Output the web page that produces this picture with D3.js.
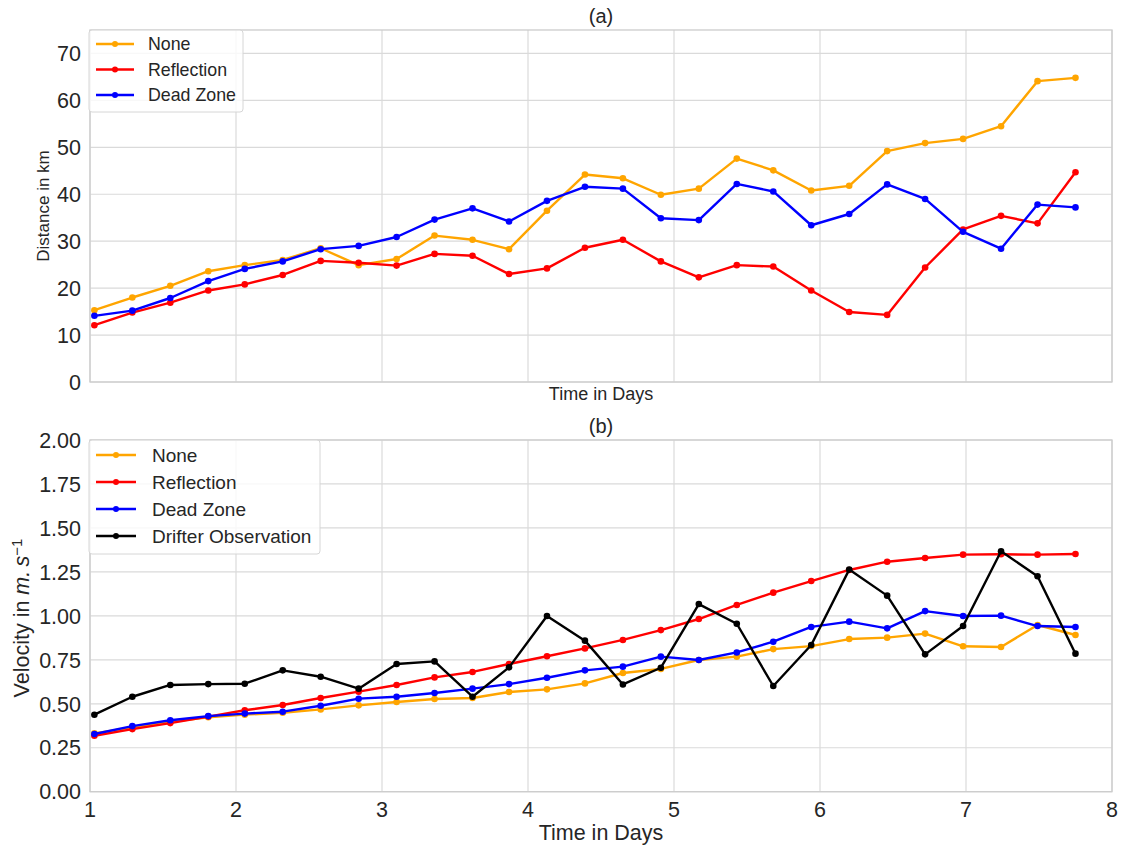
<!DOCTYPE html>
<html>
<head>
<meta charset="utf-8">
<script src="https://cdn.jsdelivr.net/npm/d3@7"></script>
<style>
  body { margin: 0; background: #fff; }
  text { font-family: "Liberation Sans", Arial, sans-serif; fill: #262626; }
</style>
</head>
<body>
<div id="chart"></div>
<script>
// time axis (days)
const days = [1.03, 1.29, 1.55, 1.81, 2.06, 2.32, 2.58, 2.84, 3.10, 3.36, 3.62, 3.87, 4.13, 4.39,
    4.65, 4.91, 5.17, 5.43, 5.68, 5.94, 6.20, 6.46, 6.72, 6.98, 7.24, 7.49, 7.75];

// (a) distance in km
const distNone = [15.3, 18.0, 20.5, 23.6, 24.9, 26.0, 28.5, 24.9, 26.2, 31.2, 30.3, 28.3, 36.5, 44.2,
    43.4, 39.9, 41.2, 47.6, 45.1, 40.8, 41.8, 49.2, 50.9, 51.8, 54.5, 64.1, 64.8];
const distReflection = [12.1, 14.8, 16.9, 19.5, 20.8, 22.8, 25.8, 25.4, 24.8, 27.3, 26.9, 23.0, 24.2, 28.6,
    30.3, 25.7, 22.3, 24.9, 24.6, 19.5, 14.9, 14.3, 24.4, 32.5, 35.4, 33.8, 44.7];
const distDeadZone = [14.1, 15.2, 17.9, 21.5, 24.1, 25.7, 28.3, 29.0, 30.9, 34.6, 37.0, 34.2, 38.6, 41.6,
    41.2, 34.9, 34.5, 42.2, 40.6, 33.4, 35.8, 42.1, 39.0, 32.0, 28.4, 37.8, 37.2];

// (b) velocity in m/s
const velNone = [0.332, 0.366, 0.398, 0.423, 0.438, 0.449, 0.468, 0.491, 0.510, 0.527, 0.533, 0.567, 0.582, 0.616,
    0.675, 0.698, 0.749, 0.768, 0.811, 0.828, 0.868, 0.876, 0.899, 0.827, 0.823, 0.948, 0.891];
const velReflection = [0.318, 0.356, 0.390, 0.427, 0.463, 0.493, 0.533, 0.569, 0.607, 0.650, 0.681, 0.726, 0.770, 0.815,
    0.863, 0.919, 0.982, 1.062, 1.132, 1.198, 1.261, 1.308, 1.329, 1.348, 1.350, 1.348, 1.352];
const velDeadZone = [0.328, 0.373, 0.406, 0.430, 0.444, 0.455, 0.489, 0.529, 0.540, 0.561, 0.586, 0.612, 0.648, 0.690,
    0.711, 0.768, 0.749, 0.792, 0.853, 0.937, 0.967, 0.929, 1.027, 0.999, 1.001, 0.942, 0.937];
const velDrifter = [0.438, 0.540, 0.607, 0.612, 0.614, 0.690, 0.654, 0.586, 0.726, 0.741, 0.540, 0.707, 0.999, 0.859,
    0.610, 0.705, 1.067, 0.955, 0.601, 0.834, 1.263, 1.115, 0.781, 0.942, 1.367, 1.225, 0.785];

const xTicks = [1, 2, 3, 4, 5, 6, 7, 8];
const distTicks = [0, 10, 20, 30, 40, 50, 60, 70];
const velTicks = [0, 0.25, 0.5, 0.75, 1.0, 1.25, 1.5, 1.75, 2.0];

const width = 1121, height = 846;
const left = 90, right = 1112;

const svg = d3.select("#chart").append("svg")
    .attr("width", width)
    .attr("height", height);

const x = d3.scaleLinear().domain([1, 8]).range([left, right]);

function panel(opts) {
    const y = d3.scaleLinear().domain(opts.yDomain).range([opts.bottom, opts.top]);
    const g = svg.append("g");

    // grid
    g.selectAll("line.gx").data(xTicks).join("line")
        .attr("x1", d => x(d)).attr("x2", d => x(d))
        .attr("y1", opts.top).attr("y2", opts.bottom)
        .attr("stroke", "#dadada").attr("stroke-width", 1.2);
    g.selectAll("line.gy").data(opts.yTicks).join("line")
        .attr("x1", left).attr("x2", right)
        .attr("y1", d => y(d)).attr("y2", d => y(d))
        .attr("stroke", "#dadada").attr("stroke-width", 1.2);

    // frame
    g.append("rect")
        .attr("x", left).attr("y", opts.top)
        .attr("width", right - left).attr("height", opts.bottom - opts.top)
        .attr("fill", "none").attr("stroke", "#cccccc").attr("stroke-width", 1.3);

    // y tick labels
    g.selectAll("text.yt").data(opts.yTicks).join("text")
        .attr("x", left - 9).attr("y", d => y(d))
        .attr("dy", "0.36em")
        .attr("text-anchor", "end")
        .style("font-size", "21.5px")
        .text(opts.yFormat);

    // x tick labels
    if (opts.xLabels) {
        g.selectAll("text.xt").data(xTicks).join("text")
            .attr("x", d => x(d)).attr("y", opts.bottom + 25)
            .attr("text-anchor", "middle")
            .style("font-size", "21.5px")
            .text(d => d);
    }

    // lines and markers
    const line = d3.line().x((d, i) => x(days[i])).y(d => y(d));
    opts.series.forEach(s => {
        g.append("path").datum(s.values)
            .attr("d", line)
            .attr("fill", "none")
            .attr("stroke", s.color)
            .attr("stroke-width", 2.4)
            .attr("stroke-linejoin", "round");
        g.selectAll(null).data(s.values).join("circle")
            .attr("cx", (d, i) => x(days[i]))
            .attr("cy", d => y(d))
            .attr("r", 3.3)
            .attr("fill", s.color);
    });

    // title
    g.append("text")
        .attr("x", (left + right) / 2).attr("y", opts.top - 7)
        .attr("text-anchor", "middle")
        .style("font-size", "20px")
        .text(opts.title);

    // legend
    const lg = opts.legend;
    g.append("rect")
        .attr("x", left - 1).attr("y", opts.top)
        .attr("width", lg.w).attr("height", lg.h)
        .attr("rx", 3)
        .attr("fill", "rgba(255,255,255,0.8)")
        .attr("stroke", "#d6d6d6");
    opts.series.forEach((s, i) => {
        const yy = opts.top + lg.first + i * lg.step;
        g.append("line")
            .attr("x1", left + 6).attr("x2", left + lg.lineW + 6)
            .attr("y1", yy).attr("y2", yy)
            .attr("stroke", s.color).attr("stroke-width", 2.4);
        g.append("circle")
            .attr("cx", left + 6 + lg.lineW / 2).attr("cy", yy).attr("r", 3)
            .attr("fill", s.color);
        g.append("text")
            .attr("x", left + lg.textX).attr("y", yy)
            .attr("dy", "0.36em")
            .style("font-size", lg.font)
            .text(s.name);
    });
    return y;
}

panel({
    top: 30, bottom: 382, yDomain: [0, 75], yTicks: distTicks, yFormat: d => d,
    xLabels: false, title: "(a)",
    legend: { w: 154, h: 82, first: 14, step: 25.5, lineW: 38, textX: 58, font: "17.8px" },
    series: [
        { name: "None", color: "orange", values: distNone },
        { name: "Reflection", color: "red", values: distReflection },
        { name: "Dead Zone", color: "blue", values: distDeadZone }
    ]
});

panel({
    top: 440, bottom: 791.7, yDomain: [0, 2], yTicks: velTicks, yFormat: d3.format(".2f"),
    xLabels: true, title: "(b)",
    legend: { w: 231, h: 114, first: 15, step: 27, lineW: 40, textX: 62, font: "19px" },
    series: [
        { name: "None", color: "orange", values: velNone },
        { name: "Reflection", color: "red", values: velReflection },
        { name: "Dead Zone", color: "blue", values: velDeadZone },
        { name: "Drifter Observation", color: "black", values: velDrifter }
    ]
});

// axis labels
svg.append("text")
    .attr("x", (left + right) / 2).attr("y", 400)
    .attr("text-anchor", "middle")
    .style("font-size", "18px")
    .text("Time in Days");

svg.append("text")
    .attr("transform", `translate(49, 206) rotate(-90)`)
    .attr("text-anchor", "middle")
    .style("font-size", "17px")
    .text("Distance in km");

svg.append("text")
    .attr("x", (left + right) / 2).attr("y", 840)
    .attr("text-anchor", "middle")
    .style("font-size", "21.5px")
    .text("Time in Days");

const vl = svg.append("text")
    .attr("transform", `translate(29, 618) rotate(-90)`)
    .attr("text-anchor", "middle")
    .style("font-size", "21.5px");
vl.append("tspan").text("Velocity in ");
vl.append("tspan").style("font-style", "italic").text("m.\u2009s");
vl.append("tspan").attr("dy", "-0.5em").style("font-size", "15px").text("\u22121");
</script>
</body>
</html>
